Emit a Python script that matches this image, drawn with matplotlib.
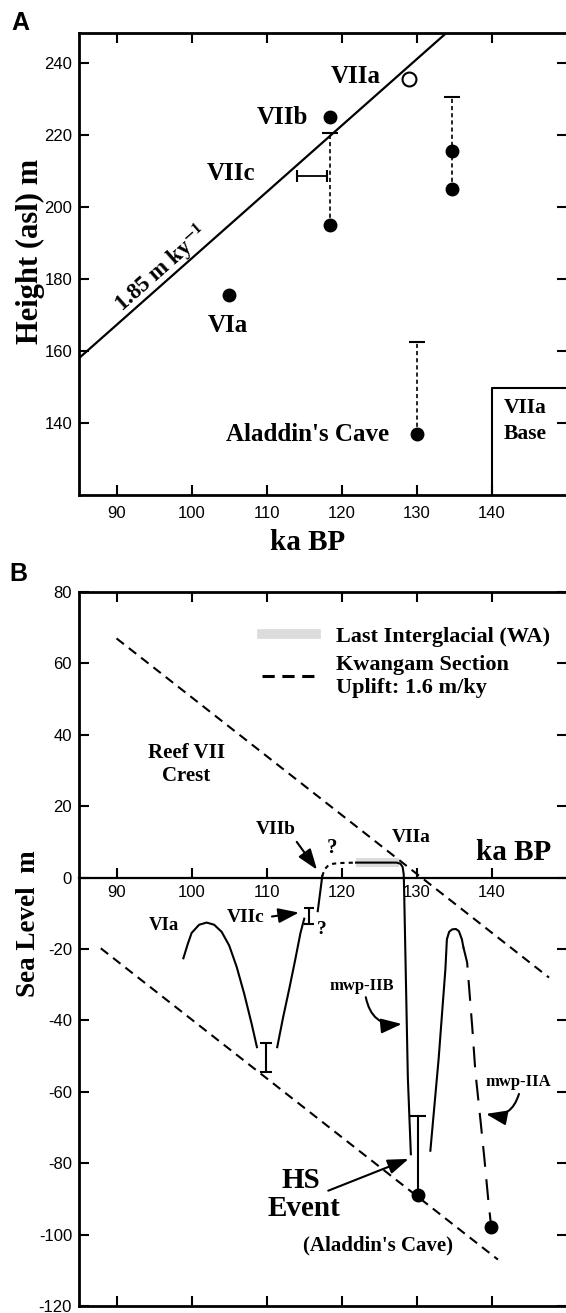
import numpy as np
import matplotlib
matplotlib.use('Agg')
import matplotlib.pyplot as plt
from matplotlib.lines import Line2D

plt.rcParams['font.family'] = ['Liberation Sans', 'DejaVu Sans']
plt.rcParams['axes.unicode_minus'] = False
plt.rcParams['mathtext.fontset'] = 'stix'

SERIF = ['Liberation Serif', 'DejaVu Serif']

# ---------------- Panel A data ----------------
a_xticks = [90, 100, 110, 120, 130, 140]
a_yticks = [140, 160, 180, 200, 220, 240]
a_xlim = (85, 150)
a_ylim = (120, 248.3)

trend_x = [85.0, 134.3]          # 1.85 m/ky uplift line
trend_y = [158.0, 249.0]

a_solid_x = [105.0, 118.4, 118.4, 134.7, 134.7, 130.0]
a_solid_y = [175.5, 225.0, 195.0, 215.5, 205.0, 137.0]
a_open_x = [128.9]
a_open_y = [235.5]

a_range_x = [118.4, 134.7, 130.0]
a_range_lo = [195.0, 205.0, 137.0]
a_range_hi = [220.5, 230.5, 162.5]

viic_x = [114.0, 118.0]
viic_y = 208.5

base_x = [140.0, 150.0]
base_y = [120.0, 149.7]

# ---------------- Panel B data ----------------
b_xticks = [90, 100, 110, 120, 130, 140]
b_yticks = [-120, -100, -80, -60, -40, -20, 0, 20, 40, 60, 80]
b_xlim = (85, 150)
b_ylim = (-120, 80)

upper_x = [90.0, 147.6]          # Kwangam section uplift lines
upper_y = [67.0, -28.0]
lower_x = [87.9, 140.8]
lower_y = [-19.8, -107.0]

via_x = [98.9, 99.5, 100.0, 101.0, 102.0, 103.0, 104.0, 105.0, 106.0, 107.0, 108.0, 108.7]
via_y = [-22.6, -18.5, -15.5, -13.2, -12.6, -13.2, -15.2, -19.0, -25.0, -32.5, -41.0, -47.5]

via_bar_x = 109.9
via_bar = (-54.5, -46.4)

rise1_x = [111.4, 112.2, 113.0, 113.8, 114.5, 115.0]
rise1_y = [-47.5, -39.0, -31.2, -23.0, -15.5, -11.5]

viic_bar_x = 115.6
viic_bar = (-13.1, -8.4)

rise2_x = [116.8, 117.4]
rise2_y = [-9.4, 0.4]

trans_x = [117.4, 117.7, 118.2, 118.9, 120.0, 121.9]
trans_y = [0.4, 2.3, 3.4, 3.9, 4.1, 4.2]

li_x = [121.9, 127.6]             # Last Interglacial (WA) band
li_y = (3.0, 5.6)

drop_x = [121.9, 127.3, 127.8, 128.1, 128.25, 128.3, 128.8, 129.2]
drop_y = [4.2, 4.2, 3.9, 3.0, 1.0, -3.0, -56.0, -77.5]

hs_x = 130.2
hs_y = -89.0
hs_top = -66.8

peak_x = [131.8, 132.9, 133.8, 134.0, 134.3, 134.7, 135.2, 135.6, 136.0, 136.2]
peak_y = [-76.5, -50.8, -25.7, -17.3, -15.2, -14.5, -14.4, -15.0, -17.3, -19.5]

mwpa_x = [136.2, 136.7, 137.4, 137.8, 138.5, 139.0, 139.5, 139.9]
mwpa_y = [-19.5, -23.8, -42.5, -54.5, -68.5, -78.8, -90.0, -97.8]

end_x = [139.9]
end_y = [-97.8]

# ---------------- Figure ----------------
fig = plt.figure(figsize=(5.66, 13.13), dpi=100)
axA = fig.add_axes([0.13958, 0.62300, 0.8622, 0.35187])
axB = fig.add_axes([0.13958, 1 - 1306 / 1313, 0.8622, (1306 - 592) / 1313])


def frame(ax):
    for s in ax.spines.values():
        s.set_linewidth(2)


# ---------- Panel A ----------
axA.set_xlim(*a_xlim)
axA.set_ylim(*a_ylim)
axA.set_xticks(a_xticks)
axA.set_yticks(a_yticks)
axA.tick_params(direction='in', length=7, width=1.5, top=True, right=True, labelsize=12)
axA.tick_params(axis='x', pad=8)
axA.tick_params(axis='y', pad=5)
frame(axA)

axA.plot(trend_x, trend_y, color='k', lw=1.6)
axA.vlines(a_range_x, a_range_lo, a_range_hi, colors='k', lw=1.2, linestyles=[(0, (2.5, 1.8))])
axA.plot(a_range_x, a_range_hi, ls='none', marker='_', ms=11, mew=1.5, color='k')
axA.plot(viic_x, [viic_y] * 2, color='k', lw=1.3)
axA.plot(viic_x, [viic_y] * 2, ls='none', marker='|', ms=9, mew=1.5, color='k')
axA.plot(a_solid_x, a_solid_y, 'o', ms=9, color='k')
axA.plot(a_open_x, a_open_y, 'o', ms=10, mfc='white', mec='k', mew=1.5)
axA.plot([base_x[0], base_x[0], base_x[1]], [base_y[0], base_y[1], base_y[1]], color='k', lw=1.5)

tA = dict(family=SERIF, weight='bold', ha='center', va='center')
axA.text(121.9, 236.1, 'VIIa', fontsize=18, **tA)
axA.text(112.1, 224.7, 'VIIb', fontsize=18, **tA)
axA.text(105.2, 209.4, 'VIIc', fontsize=18, **tA)
axA.text(104.8, 167.2, 'VIa', fontsize=18, **tA)
axA.text(115.5, 136.9, "Aladdin's Cave", fontsize=18, **tA)
axA.text(141.6, 144.2, 'VIIa', fontsize=15.5, family=SERIF, weight='bold', ha='left', va='center')
axA.text(141.6, 136.9, 'Base', fontsize=15.5, family=SERIF, weight='bold', ha='left', va='center')
axA.text(95.9, 182.8, r'1.85 m ky$^{\mathbf{-1}}$', fontsize=16.5, family=SERIF, weight='bold',
         ha='center', va='center', rotation=np.degrees(np.arctan(1.85)),
         transform_rotates_text=True, rotation_mode='anchor')

axA.set_ylabel('Height (asl) m', fontsize=22, family=SERIF, weight='bold')
axA.yaxis.set_label_coords(-0.100, 0.528)
axA.yaxis.label.set_va('center')
axA.set_xlabel('ka BP', fontsize=21, family=SERIF, weight='bold')
axA.xaxis.set_label_coords(0.468, -0.102)
axA.xaxis.label.set_va('center')

# ---------- Panel B ----------
axB.set_xlim(*b_xlim)
axB.set_ylim(*b_ylim)
axB.set_xticks(b_xticks)
axB.set_yticks(b_yticks)
axB.tick_params(direction='in', length=7, width=1.5, top=True, right=True, labelsize=12,
                labelbottom=False)
axB.tick_params(axis='y', pad=5)
frame(axB)

sec = axB.secondary_xaxis((0 - b_ylim[0]) / (b_ylim[1] - b_ylim[0]))
sec.set_alignment('bottom')
sec.set_xticks(b_xticks)
sec.tick_params(direction='in', length=7, width=1.5, labelsize=12, pad=5)
sec.spines['bottom'].set_linewidth(1.6)

axB.plot(upper_x, upper_y, color='k', lw=1.5, ls=(0, (4.5, 3)))
axB.plot(lower_x, lower_y, color='k', lw=1.5, ls=(0, (4.5, 3)))

axB.fill_between(li_x, li_y[0], li_y[1], color='#dcdcdc', lw=0, zorder=1)

axB.plot(via_x, via_y, color='k', lw=1.5)
axB.errorbar([via_bar_x], [np.mean(via_bar)], yerr=[[np.mean(via_bar) - via_bar[0]], [via_bar[1] - np.mean(via_bar)]],
             fmt='none', ecolor='k', elinewidth=1.5, capsize=4.5, capthick=1.5)
axB.plot(rise1_x, rise1_y, color='k', lw=1.5)
axB.errorbar([viic_bar_x], [np.mean(viic_bar)], yerr=[[np.mean(viic_bar) - viic_bar[0]], [viic_bar[1] - np.mean(viic_bar)]],
             fmt='none', ecolor='k', elinewidth=1.5, capsize=3.5, capthick=1.5)
axB.plot(rise2_x, rise2_y, color='k', lw=1.5)
axB.plot(trans_x, trans_y, color='k', lw=1.5, ls=(0, (2, 2)))
axB.plot(drop_x, drop_y, color='k', lw=1.5, zorder=3)
axB.plot([hs_x, hs_x], [hs_y, hs_top], color='k', lw=1.5)
axB.plot([hs_x], [hs_top], ls='none', marker='_', ms=11, mew=1.5, color='k')
axB.plot(peak_x, peak_y, color='k', lw=1.5)
axB.plot(mwpa_x, mwpa_y, color='k', lw=1.5, ls=(0, (10, 6)))
axB.plot([hs_x] + end_x, [hs_y] + end_y, 'o', ms=9, color='k', ls='none')

tB = dict(family=SERIF, weight='bold', ha='center', va='center')
axB.text(99.3, 31.7, 'Reef VII\nCrest', fontsize=15, linespacing=1.15, **tB)
axB.text(111.2, 13.4, 'VIIb', fontsize=14, **tB)
axB.text(118.7, 8.4, '?', fontsize=15, **tB)
axB.text(129.2, 11.2, 'VIIa', fontsize=14, **tB)
axB.text(142.9, 7.0, 'ka BP', fontsize=21, **tB)
axB.text(96.3, -13.4, 'VIa', fontsize=13.5, **tB)
axB.text(107.2, -11.2, 'VIIc', fontsize=14, **tB)
axB.text(117.3, -14.5, '?', fontsize=14, **tB)
axB.text(122.7, -30.4, 'mwp-IIB', fontsize=12, **tB)
axB.text(143.5, -57.3, 'mwp-IIA', fontsize=12, **tB)
axB.text(114.5, -84.9, 'HS', fontsize=21, **tB)
axB.text(114.9, -92.7, 'Event', fontsize=21, **tB)
axB.text(124.8, -103.0, "(Aladdin's Cave)", fontsize=15, **tB)

arr = dict(arrowstyle='-|>,head_length=0.7,head_width=0.25', color='k', lw=1.5,
           shrinkA=0, shrinkB=0, mutation_scale=18)
axB.annotate('', xy=(116.7, 2.2), xytext=(114.0, 10.0), arrowprops=arr)
axB.annotate('', xy=(114.3, -9.8), xytext=(110.7, -10.9), arrowprops=arr)
axB.annotate('', xy=(128.0, -41.0), xytext=(123.2, -33.5),
             arrowprops=dict(arr, connectionstyle='arc3,rad=0.45'))
axB.annotate('', xy=(139.2, -66.2), xytext=(143.6, -60.6),
             arrowprops=dict(arr, connectionstyle='arc3,rad=-0.45'))
axB.annotate('', xy=(128.9, -78.8), xytext=(118.2, -87.7), arrowprops=arr)

handles = [Line2D([], [], color='#dcdcdc', lw=7),
           Line2D([], [], color='k', lw=2.2, ls=(0, (4, 2.5)))]
labels = ['Last Interglacial (WA)', 'Kwangam Section\nUplift: 1.6 m/ky']
axB.legend(handles, labels, loc='upper left', bbox_to_anchor=(0.3758, 0.952), frameon=False,
           borderpad=0, borderaxespad=0, handlelength=2.4, handletextpad=0.9,
           labelspacing=0.35, prop=dict(family=SERIF, weight='bold', size=16))

axB.set_ylabel('Sea Level  m', fontsize=19.5, family=SERIF, weight='bold')
axB.yaxis.set_label_coords(-0.103, 0.535)
axB.yaxis.label.set_va('center')

fig.text(20 / 566, 1 - 22.5 / 1313, 'A', fontsize=18, weight='bold', ha='center', va='center')
fig.text(18 / 566, 1 - 574 / 1313, 'B', fontsize=18, weight='bold', ha='center', va='center')

fig.savefig('out.png', dpi=100)
